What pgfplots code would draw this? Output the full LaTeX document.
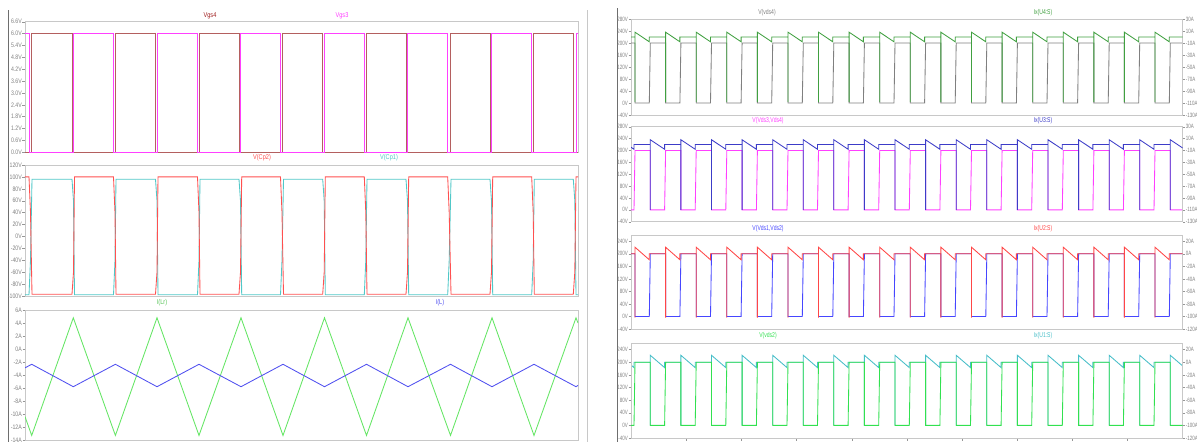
\documentclass[border=0pt]{standalone}
\usepackage{fontspec}
\usepackage{pgfplots}
\usepackage{pgfplotstable}
\pgfplotsset{compat=1.18}
\newfontfamily\labL[FakeStretch=0.8]{Liberation Sans}
\newfontfamily\labR[FakeStretch=0.72]{Liberation Sans}
\newcommand\fl{\labL\fontsize{6.5}{7}\selectfont}
\newcommand\fr{\labR\fontsize{6.2}{7}\selectfont}
\newcommand\ft{\labL\fontsize{7}{8}\selectfont}
\newcommand\ftr{\labR\fontsize{7}{8}\selectfont}
\definecolor{framec}{RGB}{200,200,200}
\definecolor{tickc}{RGB}{150,150,150}
\definecolor{labc}{RGB}{130,130,130}
\definecolor{panec}{RGB}{110,110,110}
\definecolor{vgsf}{RGB}{180,95,95}
\definecolor{vgsft}{RGB}{160,30,30}
\definecolor{vgst}{RGB}{255,64,255}
\definecolor{cptwo}{RGB}{255,80,80}
\definecolor{cpone}{RGB}{80,200,200}
\definecolor{ilr}{RGB}{100,230,100}
\definecolor{il}{RGB}{80,80,240}
\definecolor{rgray}{RGB}{128,128,128}
\definecolor{rgreen}{RGB}{64,160,64}
\definecolor{rmag}{RGB}{255,64,255}
\definecolor{rnavy}{RGB}{60,60,200}
\definecolor{rblue}{RGB}{70,70,255}
\definecolor{rred}{RGB}{255,70,70}
\definecolor{rgrn}{RGB}{50,225,80}
\definecolor{rcyan}{RGB}{70,190,200}

\pgfplotstableread[row sep=\\]{
t v\\
631 200\\
635.0 200\\ 635.0 0\\ 649.3 0\\ 650.3 200\\
665.6 200\\ 665.6 0\\ 679.9 0\\ 680.9 200\\
696.2 200\\ 696.2 0\\ 710.5 0\\ 711.5 200\\
726.8 200\\ 726.8 0\\ 741.1 0\\ 742.1 200\\
757.4 200\\ 757.4 0\\ 771.7 0\\ 772.7 200\\
788.0 200\\ 788.0 0\\ 802.3 0\\ 803.3 200\\
818.5 200\\ 818.5 0\\ 832.8 0\\ 833.8 200\\
849.1 200\\ 849.1 0\\ 863.4 0\\ 864.4 200\\
879.7 200\\ 879.7 0\\ 894.0 0\\ 895.0 200\\
910.3 200\\ 910.3 0\\ 924.6 0\\ 925.6 200\\
940.9 200\\ 940.9 0\\ 955.2 0\\ 956.2 200\\
971.5 200\\ 971.5 0\\ 985.8 0\\ 986.8 200\\
1002.1 200\\ 1002.1 0\\ 1016.4 0\\ 1017.4 200\\
1032.7 200\\ 1032.7 0\\ 1047.0 0\\ 1048.0 200\\
1063.3 200\\ 1063.3 0\\ 1077.6 0\\ 1078.6 200\\
1093.9 200\\ 1093.9 0\\ 1108.2 0\\ 1109.2 200\\
1124.4 200\\ 1124.4 0\\ 1138.7 0\\ 1139.7 200\\
1155.0 200\\ 1155.0 0\\ 1169.3 0\\ 1170.3 200\\
1182.7 200\\
}\voltA

\pgfplotstableread[row sep=\\]{
t v\\
631 0\\ 634 0\\ 635 200\\
650.3 200\\ 650.3 0\\ 664.6 0\\ 665.6 200\\
680.9 200\\ 680.9 0\\ 695.2 0\\ 696.2 200\\
711.5 200\\ 711.5 0\\ 725.8 0\\ 726.8 200\\
742.1 200\\ 742.1 0\\ 756.4 0\\ 757.4 200\\
772.7 200\\ 772.7 0\\ 787.0 0\\ 788.0 200\\
803.3 200\\ 803.3 0\\ 817.5 0\\ 818.5 200\\
833.8 200\\ 833.8 0\\ 848.1 0\\ 849.1 200\\
864.4 200\\ 864.4 0\\ 878.7 0\\ 879.7 200\\
895.0 200\\ 895.0 0\\ 909.3 0\\ 910.3 200\\
925.6 200\\ 925.6 0\\ 939.9 0\\ 940.9 200\\
956.2 200\\ 956.2 0\\ 970.5 0\\ 971.5 200\\
986.8 200\\ 986.8 0\\ 1001.1 0\\ 1002.1 200\\
1017.4 200\\ 1017.4 0\\ 1031.7 0\\ 1032.7 200\\
1048.0 200\\ 1048.0 0\\ 1062.3 0\\ 1063.3 200\\
1078.6 200\\ 1078.6 0\\ 1092.9 0\\ 1093.9 200\\
1109.2 200\\ 1109.2 0\\ 1123.4 0\\ 1124.4 200\\
1139.7 200\\ 1139.7 0\\ 1154.0 0\\ 1155.0 200\\
1170.3 200\\ 1170.3 0\\ 1182.7 0\\
}\voltB

\pgfplotstableread[row sep=\\]{
t a c\\
631 0 0\\
635.0 0 0\\ 635.0 -108 -102\\ 635.0 8 10.5\\ 649.3 -8 -9.5\\ 649.3 0 0\\
665.6 0 0\\ 665.6 -108 -102\\ 665.6 8 10.5\\ 679.9 -8 -9.5\\ 679.9 0 0\\
696.2 0 0\\ 696.2 -108 -102\\ 696.2 8 10.5\\ 710.5 -8 -9.5\\ 710.5 0 0\\
726.8 0 0\\ 726.8 -108 -102\\ 726.8 8 10.5\\ 741.1 -8 -9.5\\ 741.1 0 0\\
757.4 0 0\\ 757.4 -108 -102\\ 757.4 8 10.5\\ 771.7 -8 -9.5\\ 771.7 0 0\\
788.0 0 0\\ 788.0 -108 -102\\ 788.0 8 10.5\\ 802.3 -8 -9.5\\ 802.3 0 0\\
818.5 0 0\\ 818.5 -108 -102\\ 818.5 8 10.5\\ 832.8 -8 -9.5\\ 832.8 0 0\\
849.1 0 0\\ 849.1 -108 -102\\ 849.1 8 10.5\\ 863.4 -8 -9.5\\ 863.4 0 0\\
879.7 0 0\\ 879.7 -108 -102\\ 879.7 8 10.5\\ 894.0 -8 -9.5\\ 894.0 0 0\\
910.3 0 0\\ 910.3 -108 -102\\ 910.3 8 10.5\\ 924.6 -8 -9.5\\ 924.6 0 0\\
940.9 0 0\\ 940.9 -108 -102\\ 940.9 8 10.5\\ 955.2 -8 -9.5\\ 955.2 0 0\\
971.5 0 0\\ 971.5 -108 -102\\ 971.5 8 10.5\\ 985.8 -8 -9.5\\ 985.8 0 0\\
1002.1 0 0\\ 1002.1 -108 -102\\ 1002.1 8 10.5\\ 1016.4 -8 -9.5\\ 1016.4 0 0\\
1032.7 0 0\\ 1032.7 -108 -102\\ 1032.7 8 10.5\\ 1047.0 -8 -9.5\\ 1047.0 0 0\\
1063.3 0 0\\ 1063.3 -108 -102\\ 1063.3 8 10.5\\ 1077.6 -8 -9.5\\ 1077.6 0 0\\
1093.9 0 0\\ 1093.9 -108 -102\\ 1093.9 8 10.5\\ 1108.2 -8 -9.5\\ 1108.2 0 0\\
1124.4 0 0\\ 1124.4 -108 -102\\ 1124.4 8 10.5\\ 1138.7 -8 -9.5\\ 1138.7 0 0\\
1155.0 0 0\\ 1155.0 -108 -102\\ 1155.0 8 10.5\\ 1169.3 -8 -9.5\\ 1169.3 0 0\\
1182.7 0 0\\
}\curA

\pgfplotstableread[row sep=\\]{
t b d\\
631 -4.6 -4.4\\ 634 -8 -8.5\\ 634 0 0\\
650.3 0 0\\ 650.3 -110 -100\\ 650.3 8 11\\ 664.6 -8 -8.5\\ 664.6 0 0\\
680.9 0 0\\ 680.9 -110 -100\\ 680.9 8 11\\ 695.2 -8 -8.5\\ 695.2 0 0\\
711.5 0 0\\ 711.5 -110 -100\\ 711.5 8 11\\ 725.8 -8 -8.5\\ 725.8 0 0\\
742.1 0 0\\ 742.1 -110 -100\\ 742.1 8 11\\ 756.4 -8 -8.5\\ 756.4 0 0\\
772.7 0 0\\ 772.7 -110 -100\\ 772.7 8 11\\ 787.0 -8 -8.5\\ 787.0 0 0\\
803.3 0 0\\ 803.3 -110 -100\\ 803.3 8 11\\ 817.5 -8 -8.5\\ 817.5 0 0\\
833.8 0 0\\ 833.8 -110 -100\\ 833.8 8 11\\ 848.1 -8 -8.5\\ 848.1 0 0\\
864.4 0 0\\ 864.4 -110 -100\\ 864.4 8 11\\ 878.7 -8 -8.5\\ 878.7 0 0\\
895.0 0 0\\ 895.0 -110 -100\\ 895.0 8 11\\ 909.3 -8 -8.5\\ 909.3 0 0\\
925.6 0 0\\ 925.6 -110 -100\\ 925.6 8 11\\ 939.9 -8 -8.5\\ 939.9 0 0\\
956.2 0 0\\ 956.2 -110 -100\\ 956.2 8 11\\ 970.5 -8 -8.5\\ 970.5 0 0\\
986.8 0 0\\ 986.8 -110 -100\\ 986.8 8 11\\ 1001.1 -8 -8.5\\ 1001.1 0 0\\
1017.4 0 0\\ 1017.4 -110 -100\\ 1017.4 8 11\\ 1031.7 -8 -8.5\\ 1031.7 0 0\\
1048.0 0 0\\ 1048.0 -110 -100\\ 1048.0 8 11\\ 1062.3 -8 -8.5\\ 1062.3 0 0\\
1078.6 0 0\\ 1078.6 -110 -100\\ 1078.6 8 11\\ 1092.9 -8 -8.5\\ 1092.9 0 0\\
1109.2 0 0\\ 1109.2 -110 -100\\ 1109.2 8 11\\ 1123.4 -8 -8.5\\ 1123.4 0 0\\
1139.7 0 0\\ 1139.7 -110 -100\\ 1139.7 8 11\\ 1154.0 -8 -8.5\\ 1154.0 0 0\\
1170.3 0 0\\ 1170.3 -110 -100\\ 1170.3 8 11\\ 1182.7 -5.9 -5.9\\
}\curB

\pgfplotsset{
  base/.style={scale only axis, anchor=north west, enlargelimits=false,
    axis line style={draw=framec, line width=0.5pt, -},
    xtick=\empty, tick style={draw=tickc, line width=0.4pt},
    tick align=outside, major tick length=2.5pt, clip=true,
    every axis plot/.append style={line width=0.85pt, line join=miter, mark=none}},
  lpan/.style={base, ytick pos=left,
    yticklabel style={font=\fl, text=labc, inner sep=0.5pt},
    xmin=25, xmax=578, width=553pt},
  rpanV/.style={base, ytick pos=left,
    yticklabel style={font=\fr, text=labc, inner sep=0.5pt},
    xmin=631, xmax=1182.7, width=551.7pt},
  rpanI/.style={base, axis x line=none, axis y line*=right,
    yticklabel style={font=\fr, text=labc, inner sep=0.5pt, anchor=west},
    xmin=631, xmax=1182.7, width=551.7pt},
  vtA/.style={ymin=-40, ymax=280, ytick={-40,0,40,80,120,160,200,240,280},
    yticklabels={-40V,0V,40V,80V,120V,160V,200V,240V,280V}},
  itA/.style={ymin=-130, ymax=30, ytick={-130,-110,-90,-70,-50,-30,-10,10,30},
    yticklabels={-130A,-110A,-90A,-70A,-50A,-30A,-10A,10A,30A}},
  vtB/.style={ymin=-40, ymax=260, ytick={-40,0,40,80,120,160,200,240},
    yticklabels={-40V,0V,40V,80V,120V,160V,200V,240V}},
  itB/.style={ymin=-120, ymax=30, ytick={-120,-100,-80,-60,-40,-20,0,20},
    yticklabels={-120A,-100A,-80A,-60A,-40A,-20A,0A,20A}},
}

\begin{document}
\begin{tikzpicture}[x=1pt,y=1pt]
\fill[white] (0,0) rectangle (1197,-442);
\useasboundingbox (0,0) rectangle (1197,-442);
\draw[panec, line width=0.8pt] (8,-10) -- (8,-442);
\draw[framec, line width=0.6pt] (587,-10) -- (587,-442);
\draw[panec, line width=0.8pt] (617,-8) -- (617,-442);

% ---------- left panel: gate voltages ----------
\begin{axis}[lpan, at={(25pt,-21.7pt)}, height=130.5pt, ymin=0, ymax=6.6,
  ytick={0,0.6,1.2,1.8,2.4,3.0,3.6,4.2,4.8,5.4,6.0,6.6},
  yticklabels={0.0V,0.6V,1.2V,1.8V,2.4V,3.0V,3.6V,4.2V,4.8V,5.4V,6.0V,6.6V}]
\addplot[color=vgsf] coordinates {(25,0)(31,0)(31,6)(72,6)(72,0)(115,0)(115,6)(155.5,6)(155.5,0)(199,0)(199,6)(239,6)(239,0)(282.5,0)(282.5,6)(322.7,6)(322.7,0)(366,0)(366,6)(406,6)(406,0)(450,0)(450,6)(490,6)(490,0)(533.3,0)(533.3,6)(573.3,6)(573.3,0)(578,0)};
\addplot[color=vgst] coordinates {(25,6)(29,6)(29,0)(73.5,0)(73.5,6)(113.5,6)(113.5,0)(157,0)(157,6)(197.5,6)(197.5,0)(240.7,0)(240.7,6)(280.5,6)(280.5,0)(324.3,0)(324.3,6)(364.3,6)(364.3,0)(407.7,0)(407.7,6)(447.7,6)(447.7,0)(491.7,0)(491.7,6)(531.7,6)(531.7,0)(576,0)(576,6)(578,6)};
\end{axis}

% ---------- left panel: capacitor voltages ----------
\begin{axis}[lpan, at={(25pt,-165pt)}, height=131pt, ymin=-100, ymax=120,
  ytick={-100,-80,-60,-40,-20,0,20,40,60,80,100,120},
  yticklabels={-100V,-80V,-60V,-40V,-20V,0V,20V,40V,60V,80V,100V,120V}]
\addplot[color=cpone] coordinates {(25,-98)(29,-98)(30.5,-40)(32,96)(72,96)(73.5,60)(74.5,-98)(113.5,-98)(115,-40)(116,96)(155.5,96)(157,60)(158,-98)(197.5,-98)(199,-40)(200,96)(239,96)(240.5,60)(241.7,-98)(280.5,-98)(282,-40)(283.5,96)(322.7,96)(324.2,60)(325.3,-98)(364.3,-98)(365.8,-40)(367,96)(406,96)(407.5,60)(408.7,-98)(447.7,-98)(449.2,-40)(451,96)(490,96)(491.5,60)(492.7,-98)(531.7,-98)(533.2,-40)(534.3,96)(573.3,96)(574.8,60)(576,-98)(578,-98)};
\addplot[color=cptwo] coordinates {(25,100)(29,100)(30.5,40)(32,-97)(72,-97)(73.5,-60)(74.5,100)(113.5,100)(115,40)(116,-97)(155.5,-97)(157,-60)(158,100)(197.5,100)(199,40)(200,-97)(239,-97)(240.5,-60)(241.7,100)(280.5,100)(282,40)(283.5,-97)(322.7,-97)(324.2,-60)(325.3,100)(364.3,100)(365.8,40)(367,-97)(406,-97)(407.5,-60)(408.7,100)(447.7,100)(449.2,40)(451,-97)(490,-97)(491.5,-60)(492.7,100)(531.7,100)(533.2,40)(534.3,-97)(573.3,-97)(574.8,-60)(576,100)(578,100)};
\end{axis}

% ---------- left panel: inductor currents ----------
\begin{axis}[lpan, at={(25pt,-310pt)}, height=130pt, ymin=-14, ymax=6,
  ytick={-14,-12,-10,-8,-6,-4,-2,0,2,4,6},
  yticklabels={-14A,-12A,-10A,-8A,-6A,-4A,-2A,0A,2A,4A,6A}]
\addplot[color=ilr] coordinates {(25,-10.4)(31.7,-13.3)(73.3,4.8)(115.4,-13.3)(157,4.8)(199,-13.3)(241,4.8)(283,-13.3)(324.5,4.8)(366.5,-13.3)(408,4.8)(450.5,-13.3)(492,4.8)(534,-13.3)(576,4.8)(578,4.0)};
\addplot[color=il] coordinates {(25,-2.9)(31.7,-2.35)(73.3,-5.8)(115.4,-2.35)(157,-5.8)(199,-2.35)(241,-5.8)(283,-2.35)(324.5,-5.8)(366.5,-2.35)(408,-5.8)(450.5,-2.35)(492,-5.8)(534,-2.35)(576,-5.8)(578,-5.6)};
\end{axis}

% ---------- right panel row 1 ----------
\begin{axis}[rpanV, vtA, at={(631pt,-19pt)}, height=96pt]
\addplot[color=rgray] table[x=t,y=v]{\voltA};
\end{axis}
\begin{axis}[rpanI, itA, at={(631pt,-19pt)}, height=96pt]
\addplot[color=rgreen] table[x=t,y=a]{\curA};
\end{axis}

% ---------- right panel row 2 ----------
\begin{axis}[rpanV, vtA, at={(631pt,-126.7pt)}, height=95pt]
\addplot[color=rmag] table[x=t,y=v]{\voltB};
\end{axis}
\begin{axis}[rpanI, itA, at={(631pt,-126.7pt)}, height=95pt]
\addplot[color=rnavy] table[x=t,y=b]{\curB};
\end{axis}

% ---------- right panel row 3 ----------
\begin{axis}[rpanV, vtB, at={(631pt,-235pt)}, height=94pt]
\addplot[color=rblue] table[x=t,y=v]{\voltA};
\end{axis}
\begin{axis}[rpanI, itB, at={(631pt,-235pt)}, height=94pt]
\addplot[color=rred] table[x=t,y=c]{\curA};
\end{axis}

% ---------- right panel row 4 ----------
\begin{axis}[rpanI, itB, at={(631pt,-343.3pt)}, height=94.7pt]
\addplot[color=rcyan] table[x=t,y=d]{\curB};
\end{axis}
\begin{axis}[rpanV, vtB, at={(631pt,-343.3pt)}, height=94.7pt,
  xtick={686.2,741.3,796.5,851.7,906.9,962.0,1017.2,1072.4,1127.5},
  xticklabels={}, xtick pos=bottom]
\addplot[color=rgrn] table[x=t,y=v]{\voltB};
\end{axis}

% ---------- trace names ----------
\node[text=vgsft, font=\ft] at (210,-15.5) {Vgs4};
\node[text=vgst, font=\ft] at (342,-15.5) {Vgs3};
\node[text=cptwo, font=\ft] at (262,-157.5) {V(Cp2)};
\node[text=cpone, font=\ft] at (389,-157.5) {V(Cp1)};
\node[text=ilr!85!black, font=\ft] at (162,-303) {I(Lr)};
\node[text=il, font=\ft] at (440,-303) {I(L)};
\node[text=rgray, font=\ftr] at (767,-13) {V(vds4)};
\node[text=rgreen, font=\ftr] at (1043,-13) {Ix(U4:S)};
\node[text=rmag, font=\ftr] at (768,-121) {V(Vds3,Vds4)};
\node[text=rnavy, font=\ftr] at (1043,-120.5) {Ix(U3:S)};
\node[text=rblue, font=\ftr] at (768,-228.5) {V(Vds1,Vds2)};
\node[text=rred, font=\ftr] at (1043,-228.5) {Ix(U2:S)};
\node[text=rgrn, font=\ftr] at (768,-335.5) {V(vds2)};
\node[text=rcyan, font=\ftr] at (1043,-335.5) {Ix(U1:S)};
\end{tikzpicture}
\end{document}
